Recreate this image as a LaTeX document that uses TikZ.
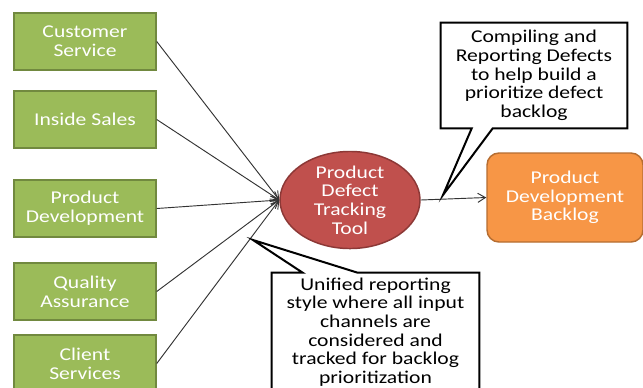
\documentclass[tikz,border=0pt]{standalone}
\usepackage{fontspec}
\setmainfont{Carlito}[FakeStretch=1.2]
\usepackage{xcolor}
\usepackage{tikz}
\usetikzlibrary{shapes.geometric, arrows.meta, positioning, calc}

\definecolor{chanfill}{HTML}{9BBB59}
\definecolor{chanline}{HTML}{71893F}
\definecolor{toolfill}{HTML}{C0504D}
\definecolor{toolline}{HTML}{8C3836}
\definecolor{logfill}{HTML}{F79646}
\definecolor{logline}{HTML}{B66D31}
\definecolor{flowgray}{HTML}{333333}

\begin{document}
\begin{tikzpicture}[
        x=0.75pt, y=-0.75pt,
        font=\fontsize{13.5}{14}\selectfont,
        channel/.style={rectangle, draw=chanline, line width=1.1pt, fill=chanfill, text=white, minimum width=106.5pt, minimum height=42.75pt, align=center, inner sep=0pt},
        toolnode/.style={ellipse, draw=toolline, line width=1.1pt, fill=toolfill, text=white, minimum width=105pt, minimum height=70.5pt, align=center, inner sep=0pt},
        backlogbox/.style={rectangle, rounded corners=9pt, draw=logline, line width=1.1pt, fill=logfill, text=white, minimum width=117pt, minimum height=66.75pt, align=center},
        note/.style={rectangle, align=center, inner sep=0pt},
        noteline/.style={draw=black, line width=1.5pt, line join=miter},
        flow/.style={-{Straight Barb[length=2mm, width=2.4mm]}, draw=flowgray, line width=0.7pt}
    ]
        \useasboundingbox (0,0) rectangle (643,387);
        \clip (0,0) rectangle (643,387);
        \fill[white] (0,0) rectangle (643,387);

        % input channels
        \node[channel] (cust) at (85,41.5) {Customer\\Service};
        \node[channel] (sales) at (85,119.5) {Inside Sales};
        \node[channel] (dev) at (85,208.5) {Product\\Development};
        \node[channel] (qa) at (85,291.5) {Quality\\Assurance};
        \node[channel] (client) at (85,363.5) {Client\\Services};

        % tool and backlog
        \node[toolnode] (tool) at (350,200) {Product\\Defect\\Tracking\\Tool};
        \node[backlogbox] (backlog) at (565,197.5) {Product\\Development\\Backlog};

        \foreach \src in {cust, sales, dev, qa, client}
            \draw[flow] (\src.east) -- (tool.west);
        \draw[flow] (tool.east) -- (backlog.west);

        % callouts
        \node[note, minimum width=139.5pt, minimum height=78.75pt] (note1) at (534,75.5)
            {Compiling and\\Reporting Defects\\to help build a\\prioritize defect\\backlog};
        \coordinate (tip1) at (443,195);
        \draw[noteline] (note1.north west) -- (note1.north east) -- (note1.south east)
            -- ($(note1.south west)+(52,0)$) -- (tip1) -- ($(note1.south west)+(31,0)$)
            -- (note1.south west) -- cycle;

        \node[note, minimum width=155.25pt, minimum height=88.5pt] (note2) at (375.5,332)
            {Unified reporting\\style where all input\\channels are\\considered and\\tracked for backlog\\prioritization};
        \coordinate (tip2) at (253,240);
        \draw[noteline] (note2.north west) -- ($(note2.north west)+(31,0)$) -- (tip2)
            -- ($(note2.north west)+(86,0)$) -- (note2.north east) -- (note2.south east)
            -- (note2.south west) -- cycle;
    \end{tikzpicture}
\end{document}
